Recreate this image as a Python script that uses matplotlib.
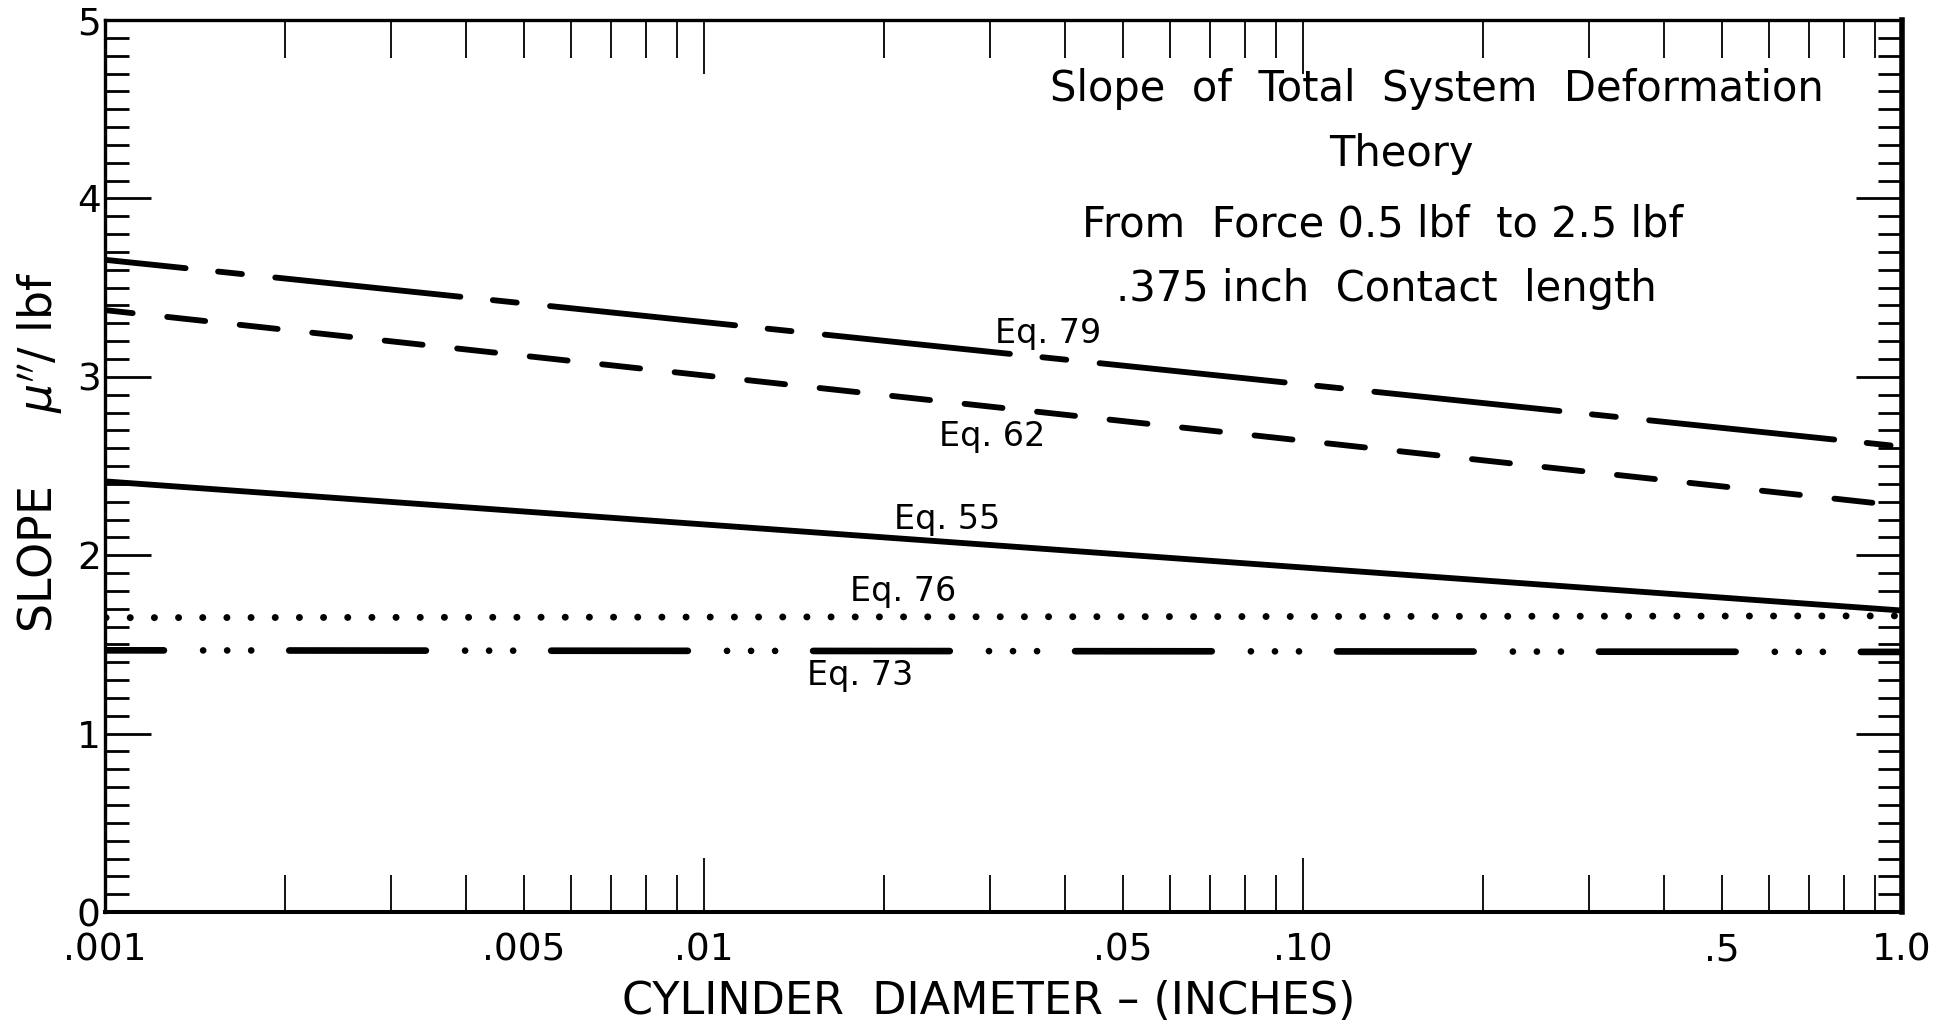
import numpy as np
import matplotlib
matplotlib.use("Agg")
import matplotlib.pyplot as plt
from matplotlib.ticker import FixedLocator, FuncFormatter, MultipleLocator, NullFormatter

plt.rcParams['font.family'] = ['DejaVu Sans']
plt.rcParams['lines.scale_dashes'] = False

# ---- data ----
x_ends = [0.001, 1.0]
eq79 = [3.656, 2.609]
eq62 = [3.374, 2.276]
eq55 = [2.414, 1.690]
eq76 = [1.650, 1.660]
eq73 = [1.467, 1.458]

labels = ["Eq. 79", "Eq. 62", "Eq. 55", "Eq. 76", "Eq. 73"]
label_x = [0.0376, 0.0303, 0.0255, 0.0215, 0.0182]
label_y = [3.245, 2.668, 2.203, 1.799, 1.328]

x_major = [0.001, 0.01, 0.1, 1.0]
x_major_labels = [".001", ".01", ".10", "1.0"]
x_minor_labeled = {0.005: ".005", 0.05: ".05", 0.5: ".5"}
y_major = [0, 1, 2, 3, 4, 5]

title_lines = ["Slope  of  Total  System  Deformation",
               "Theory",
               "From  Force 0.5 lbf  to 2.5 lbf",
               ".375 inch  Contact  length"]
title_pos = [(0.741, 0.923), (0.7216, 0.850), (0.711, 0.771), (0.713, 0.698)]

# ---- figure ----
fig = plt.figure(figsize=(19.43, 10.22), dpi=100)
ax = fig.add_axes([0.054, 0.1076, 0.9249, 0.8728])
ax.set_xscale('log')
ax.set_xlim(0.001, 1.0)
ax.set_ylim(0, 5)

lw = 4.2
dot = 0.05
ax.plot(x_ends, eq79, color='black', lw=lw, solid_capstyle='round', dash_capstyle='round',
        linestyle=(75.6, (134, 23.5, 17.3, 24.1)))
ax.plot(x_ends, eq62, color='black', lw=lw, dash_capstyle='round',
        linestyle=(7.4, (27.5, 25.0)))
ax.plot(x_ends, eq55, color='black', lw=lw, solid_capstyle='round')
ax.plot(x_ends, eq76, color='black', lw=5.0, dash_capstyle='round',
        linestyle=(16.6, (dot, 17.4 - dot)))
ax.plot(x_ends, eq73, color='black', lw=4.8, dash_capstyle='round',
        linestyle=(55.9, (98.4, 28.2, dot, 17.3 - dot, dot, 17.3 - dot, dot, 27.4 - dot)))

for t, xx, yy in zip(labels, label_x, label_y):
    ax.text(xx, yy, t, fontsize=24, ha='center', va='center')

for t, (px, py) in zip(title_lines, title_pos):
    ax.text(px, py, t, transform=ax.transAxes, fontsize=30, ha='center', va='center')

# ---- ticks ----
ax.xaxis.set_major_locator(FixedLocator(x_major))
ax.xaxis.set_major_formatter(FuncFormatter(lambda v, p: x_major_labels[int(round(np.log10(v))) + 3]))
minor_pos = [m * 10.0 ** e for e in (-3, -2, -1) for m in range(2, 10)]
ax.xaxis.set_minor_locator(FixedLocator(minor_pos))

def minor_fmt(v, p):
    for k, s in x_minor_labeled.items():
        if abs(v - k) / k < 1e-6:
            return s
    return ""
ax.xaxis.set_minor_formatter(FuncFormatter(minor_fmt))

ax.yaxis.set_major_locator(FixedLocator(y_major))
ax.yaxis.set_minor_locator(MultipleLocator(0.1))
ax.yaxis.set_major_formatter(FuncFormatter(lambda v, p: f"{int(round(v))}"))
ax.yaxis.set_minor_formatter(NullFormatter())

ax.tick_params(axis='x', which='both', direction='in', top=True, bottom=True,
               labelsize=27, pad=15, width=1.3, color='black')
ax.tick_params(axis='x', which='major', length=39)
ax.tick_params(axis='x', which='minor', length=27)
ax.tick_params(axis='y', which='both', direction='in', left=True, right=True,
               labelsize=27, pad=3, width=2.0)
ax.tick_params(axis='y', which='major', length=33)
ax.tick_params(axis='y', which='minor', length=17)

for side, w in [('left', 2.4), ('top', 2.4), ('bottom', 2.9), ('right', 4.0)]:
    ax.spines[side].set_linewidth(w)

ax.set_xlabel("CYLINDER  DIAMETER – (INCHES)", fontsize=32)
ax.xaxis.set_label_coords(0.492, -0.0998)
ax.xaxis.label.set_va('center')
ax.set_ylabel(r"SLOPE     $\mu^{\prime\prime}$/ lbf", fontsize=33)
ax.yaxis.set_label_coords(-0.0363, 0.515)
ax.yaxis.label.set_va('center')

fig.savefig("out.png", dpi=100, facecolor='white')
